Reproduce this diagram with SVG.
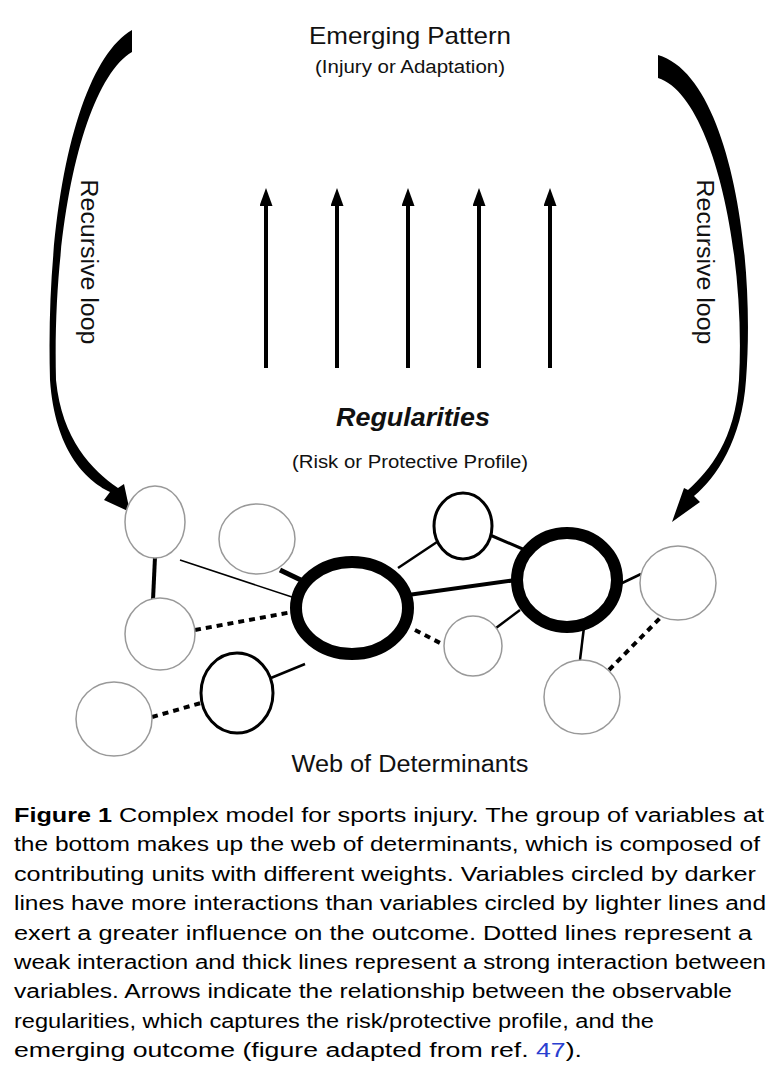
<svg xmlns="http://www.w3.org/2000/svg" width="784" height="1083" viewBox="0 0 784 1083">
<style>
text{font-family:"Liberation Sans",Arial,sans-serif;fill:#111}
.lbl{font-size:23px}
.sub{font-size:18px}
.cap{font-size:20px;fill:#000}
.n{fill:#fff}
.g{stroke:#999;stroke-width:1.5}
.m{stroke:#000;stroke-width:3}
.b{stroke:#000;stroke-width:12}
.e{stroke:#000;fill:none}
.d{stroke:#000;stroke-width:4;stroke-dasharray:6 5;fill:none}
</style>
<defs><marker id="ah" markerWidth="18" markerHeight="13" refX="4" refY="6.5" orient="auto" markerUnits="userSpaceOnUse" viewBox="0 0 18 13"><path d="M0,0 L18,6.5 L0,13 Z"/></marker></defs>
<rect width="784" height="1083" fill="#fff"/>
<text x="410" y="44" text-anchor="middle" font-size="24" textLength="202" lengthAdjust="spacingAndGlyphs">Emerging Pattern</text>
<text class="sub" x="410" y="73" text-anchor="middle" textLength="190" lengthAdjust="spacingAndGlyphs">(Injury or Adaptation)</text>
<text x="413" y="426" text-anchor="middle" font-size="25" font-weight="bold" font-style="italic" textLength="154" lengthAdjust="spacingAndGlyphs">Regularities</text>
<text class="sub" x="410" y="468" text-anchor="middle" textLength="236" lengthAdjust="spacingAndGlyphs">(Risk or Protective Profile)</text>
<text class="lbl" transform="translate(81,262) rotate(90)" text-anchor="middle" textLength="165" lengthAdjust="spacingAndGlyphs">Recursive loop</text>
<text class="lbl" transform="translate(697,262) rotate(90)" text-anchor="middle" textLength="165" lengthAdjust="spacingAndGlyphs">Recursive loop</text>
<g id="connectors">
<path d="M132,30 C80,60 45,200 50,380 C55,450 85,480 110,492 L104,500 L130,512 L124,484 L118,488 C92,470 62,440 56,380 C52,220 85,80 132,52 Z"/>
<path d="M658,55 C728,75 756,250 746,380 C742,440 716,478 694,496 L700,502 L672,522 L684,488 L688,490 C710,470 735,440 739,380 C746,250 712,95 658,78 Z"/>
<g stroke="#000" stroke-width="4" marker-end="url(#ah)">
<line x1="266" y1="368" x2="266" y2="202"/><line x1="337" y1="368" x2="337" y2="202"/><line x1="408" y1="368" x2="408" y2="202"/><line x1="479" y1="368" x2="479" y2="202"/><line x1="550" y1="368" x2="550" y2="202"/>
</g>
<line class="e" stroke-width="4" x1="155" y1="557" x2="153" y2="600"/>
<line class="e" stroke="#777" stroke-width="1.5" x1="180" y1="560" x2="295" y2="598"/>
<line class="e" stroke-width="5" x1="280" y1="570" x2="305" y2="582"/>
<line class="d" x1="195" y1="630" x2="292" y2="612"/>
<line class="e" stroke-width="2.5" x1="266" y1="680" x2="305" y2="664"/>
<line class="d" x1="152" y1="717" x2="201" y2="703"/>
<line class="e" stroke-width="2.5" x1="398" y1="568" x2="440" y2="540"/>
<line class="e" stroke-width="3" x1="490" y1="535" x2="525" y2="550"/>
<line class="e" stroke-width="4" x1="408" y1="595" x2="516" y2="580"/>
<line class="d" x1="415" y1="630" x2="444" y2="645"/>
<line class="e" stroke-width="2.5" x1="496" y1="628" x2="520" y2="610"/>
<line class="e" stroke-width="2.5" x1="618" y1="585" x2="641" y2="574"/>
<line class="e" stroke-width="2.5" x1="584" y1="627" x2="580" y2="660"/>
<line class="d" x1="609" y1="670" x2="664" y2="614"/>
</g>
<g id="n1"><ellipse class="n g" cx="155" cy="522" rx="30" ry="36"/></g>
<g id="n2"><ellipse class="n g" cx="257" cy="539" rx="38" ry="35"/></g>
<g id="n3"><ellipse class="n g" cx="160" cy="634" rx="35" ry="36"/></g>
<g id="n4"><ellipse class="n g" cx="114" cy="719" rx="38" ry="37"/></g>
<g id="n5"><ellipse class="n m" cx="237" cy="693" rx="36" ry="40"/></g>
<g id="n6"><ellipse class="n b" cx="352" cy="608" rx="56" ry="46"/></g>
<g id="n7"><ellipse class="n m" cx="463" cy="526" rx="29" ry="33"/></g>
<g id="n8"><ellipse class="n b" cx="567" cy="580" rx="50" ry="47"/></g>
<g id="n9"><ellipse class="n g" cx="473" cy="646" rx="29" ry="30"/></g>
<g id="n10"><ellipse class="n g" cx="678" cy="583" rx="38" ry="37"/></g>
<g id="n11"><ellipse class="n g" cx="582" cy="697" rx="38" ry="37"/></g>
<text x="410" y="772" text-anchor="middle" font-size="23" textLength="237" lengthAdjust="spacingAndGlyphs">Web of Determinants</text>
<g>
<text class="cap" x="14" y="822" textLength="750" lengthAdjust="spacingAndGlyphs"><tspan font-weight="bold">Figure 1</tspan>   Complex model for sports injury. The group of variables at</text>
<text class="cap" x="14" y="851" textLength="746" lengthAdjust="spacingAndGlyphs">the bottom makes up the web of determinants, which is composed of</text>
<text class="cap" x="14" y="881" textLength="742" lengthAdjust="spacingAndGlyphs">contributing units with different weights. Variables circled by darker</text>
<text class="cap" x="14" y="910" textLength="752" lengthAdjust="spacingAndGlyphs">lines have more interactions than variables circled by lighter lines and</text>
<text class="cap" x="14" y="940" textLength="738" lengthAdjust="spacingAndGlyphs">exert a greater influence on the outcome. Dotted lines represent a</text>
<text class="cap" x="14" y="969" textLength="752" lengthAdjust="spacingAndGlyphs">weak interaction and thick lines represent a strong interaction between</text>
<text class="cap" x="14" y="998" textLength="718" lengthAdjust="spacingAndGlyphs">variables. Arrows indicate the relationship between the observable</text>
<text class="cap" x="14" y="1028" textLength="640" lengthAdjust="spacingAndGlyphs">regularities, which captures the risk/protective profile, and the</text>
<text class="cap" x="14" y="1057" textLength="568" lengthAdjust="spacingAndGlyphs">emerging outcome (figure adapted from ref. <tspan fill="#2a3fd0">47</tspan>).</text>
</g>
</svg>
